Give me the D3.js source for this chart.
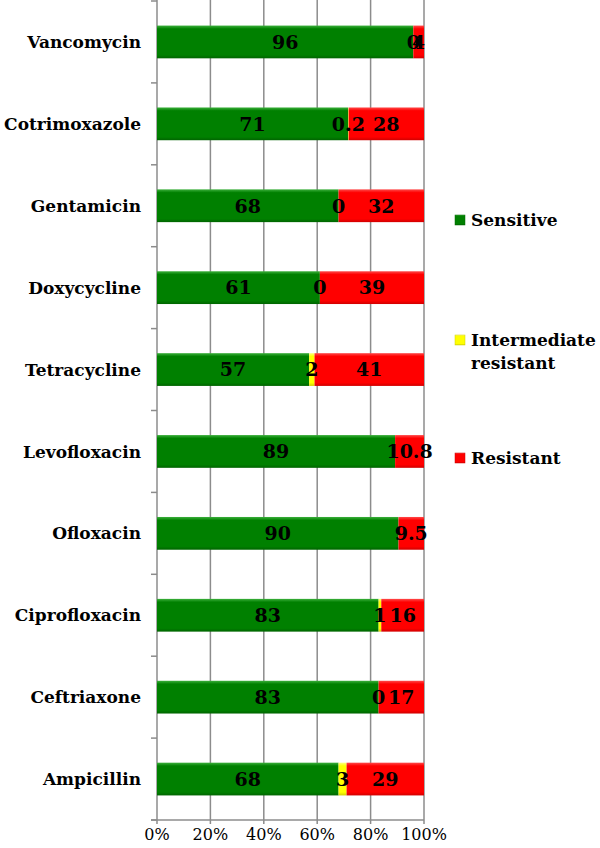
<!DOCTYPE html>
<html>
<head>
<meta charset="utf-8">
<script src="https://cdn.jsdelivr.net/npm/d3@7"></script>
<style>
  body { margin: 0; background: #fff; }
  svg { display: block; }
</style>
</head>
<body>
<div id="chart"></div>
<script>
// drugs, bottom to top as in the figure
const drugs = ["Ampicillin", "Ceftriaxone", "Ciprofloxacin", "Ofloxacin", "Levofloxacin",
  "Tetracycline", "Doxycycline", "Gentamicin", "Cotrimoxazole", "Vancomycin"];

const seriesNames = ["Sensitive", "Intermediate resistant", "Resistant"];

const sensitive    = [68, 83, 83, 90, 89, 57, 61, 68, 71, 96];
const intermediate = [3, 0, 1, null, null, 2, 0, 0, 0.2, 0];
const resistant    = [29, 17, 16, 9.5, 10.8, 41, 39, 32, 28, 4];

const tickValues = [0, 0.2, 0.4, 0.6, 0.8, 1];

const width = 600, height = 848;
const colors = ["#008000", "#ffff00", "#ff0000"];
const shades = [["#3cb03c", "#006400"], ["#ffff80", "#d0d000"], ["#ff4a4a", "#d00000"]];

const rows = drugs.map((d, i) => ({
  drug: d,
  s0: sensitive[i], s1: intermediate[i], s2: resistant[i]
}));

const svg = d3.select("#chart").append("svg")
  .attr("width", width)
  .attr("height", height);

const defs = svg.append("defs");
shades.forEach((c, i) => {
  const g = defs.append("linearGradient")
    .attr("id", "grad" + i)
    .attr("x1", 0).attr("y1", 0).attr("x2", 0).attr("y2", 1);
  g.append("stop").attr("offset", "0%").attr("stop-color", c[0]);
  g.append("stop").attr("offset", "10%").attr("stop-color", colors[i]);
  g.append("stop").attr("offset", "90%").attr("stop-color", colors[i]);
  g.append("stop").attr("offset", "100%").attr("stop-color", c[1]);
});

const x = d3.scaleLinear().domain([0, 1]).range([157, 424]);
const y = d3.scaleBand()
  .domain(drugs.slice().reverse())
  .range([1, 820])
  .paddingInner(0.6)
  .paddingOuter(0.3);

// gridlines
svg.append("g")
  .selectAll("line")
  .data(tickValues.slice(1))
  .join("line")
  .attr("x1", d => x(d)).attr("x2", d => x(d))
  .attr("y1", 0).attr("y2", 824)
  .attr("stroke", "#8c8c8c")
  .attr("stroke-width", 1.5);

// y axis line + boundary ticks
const yAxis = svg.append("g");
yAxis.append("line")
  .attr("x1", x(0)).attr("x2", x(0))
  .attr("y1", 0).attr("y2", 824)
  .attr("stroke", "#8c8c8c").attr("stroke-width", 1.5);
const step = y.step();
const bounds = d3.range(drugs.length + 1).map(i => 820 - i * step);
yAxis.selectAll(".yt")
  .data(bounds)
  .join("line")
  .attr("class", "yt")
  .attr("x1", x(0) - 6).attr("x2", x(0))
  .attr("y1", d => Math.max(d, 1)).attr("y2", d => Math.max(d, 1))
  .attr("stroke", "#8c8c8c").attr("stroke-width", 1.5);

// x axis
svg.append("line")
  .attr("x1", x(0) - 6).attr("x2", x(1))
  .attr("y1", 820).attr("y2", 820)
  .attr("stroke", "#8c8c8c").attr("stroke-width", 1.5);

svg.append("g")
  .selectAll("text")
  .data(tickValues)
  .join("text")
  .attr("x", d => x(d))
  .attr("y", 840)
  .attr("text-anchor", "middle")
  .attr("font-family", "DejaVu Serif")
  .attr("font-size", 16)
  .text(d => d3.format(".0%")(d));

// stacked bars
const stack = d3.stack()
  .keys(["s0", "s1", "s2"])
  .value((d, k) => d[k] == null ? 0 : d[k])
  .offset(d3.stackOffsetExpand);
const series = stack(rows);

const layers = svg.append("g")
  .selectAll("g")
  .data(series)
  .join("g")
  .attr("fill", (s, i) => "url(#grad" + i + ")");

layers.selectAll("rect")
  .data(s => s)
  .join("rect")
  .attr("x", d => x(d[0]))
  .attr("y", d => y(d.data.drug))
  .attr("width", d => Math.max(0, x(d[1]) - x(d[0])))
  .attr("height", y.bandwidth());

// value labels
const labels = svg.append("g")
  .attr("font-family", "DejaVu Serif")
  .attr("font-weight", "bold")
  .attr("font-size", 19)
  .attr("text-anchor", "middle");

series.forEach((s, si) => {
  labels.selectAll(".v" + si)
    .data(s.filter(d => d.data["s" + si] != null))
    .join("text")
    .attr("class", "v" + si)
    .attr("x", d => x((d[0] + d[1]) / 2))
    .attr("y", d => y(d.data.drug) + y.bandwidth() / 2)
    .attr("dy", "0.36em")
    .text(d => d.data["s" + si]);
});

// category labels
svg.append("g")
  .selectAll("text")
  .data(drugs)
  .join("text")
  .attr("x", 141)
  .attr("y", d => y(d) + y.bandwidth() / 2)
  .attr("dy", "0.36em")
  .attr("text-anchor", "end")
  .attr("font-family", "DejaVu Serif")
  .attr("font-weight", "bold")
  .attr("font-size", 17)
  .text(d => d);

// legend
const legendY = [220, 340, 458];
const legend = svg.append("g")
  .attr("font-family", "DejaVu Serif")
  .attr("font-weight", "bold")
  .attr("font-size", 17);

seriesNames.forEach((name, i) => {
  const row = legend.append("g")
    .attr("transform", "translate(455," + legendY[i] + ")");
  row.append("rect")
    .attr("x", 0).attr("y", -5)
    .attr("width", 10).attr("height", 10)
    .attr("fill", "url(#grad" + i + ")")
    .attr("stroke", d3.color(colors[i]).darker(0.6))
    .attr("stroke-width", 0.5);
  const t = row.append("text")
    .attr("x", 16)
    .attr("y", 0)
    .attr("dy", "0.36em");
  const words = name.split(" ");
  if (words.length > 1) {
    t.append("tspan").attr("x", 16).text(words[0]);
    t.append("tspan").attr("x", 16).attr("dy", "1.36em").text(words.slice(1).join(" "));
  } else {
    t.text(name);
  }
});
</script>
</body>
</html>
